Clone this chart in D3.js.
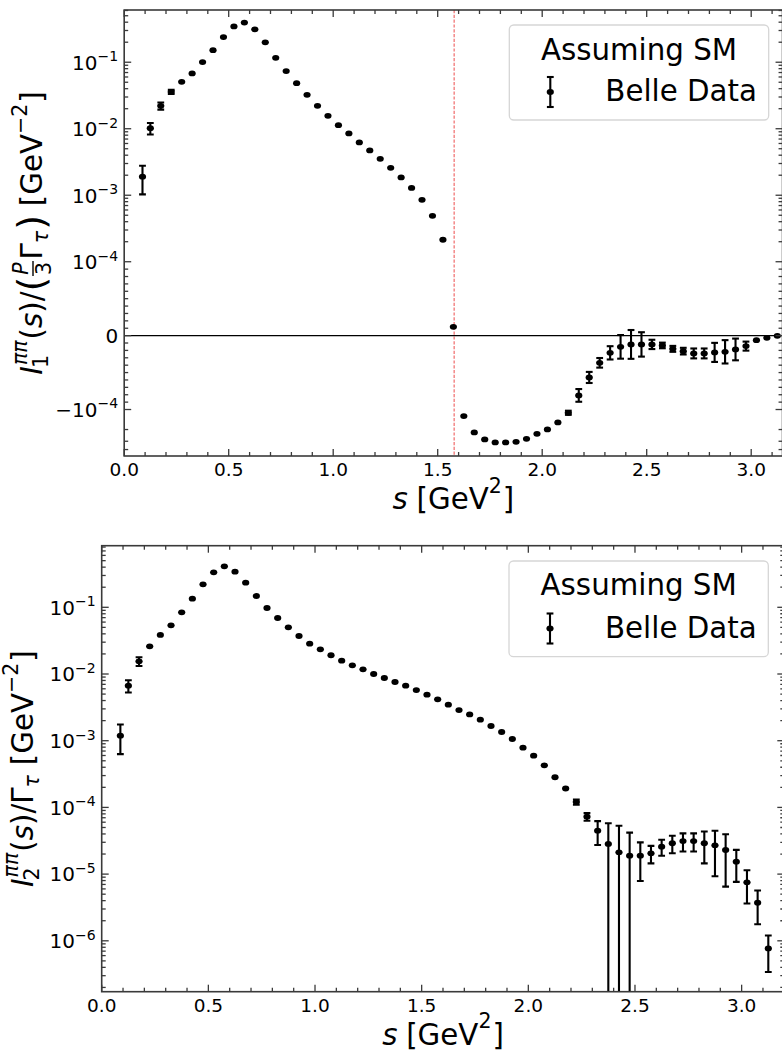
<!DOCTYPE html>
<html>
<head>
<meta charset="utf-8">
<script src="https://cdn.jsdelivr.net/npm/d3@7"></script>
<style>
  body { margin: 0; background: #fff; }
  svg { display: block; }
  text { font-family: "DejaVu Sans", sans-serif; fill: #000; }
</style>
</head>
<body>
<svg id="chart" width="782" height="1050"></svg>
<script>
// ---- data: Belle tau -> pi pi0 nu bins (s in GeV^2) ----
const sBins = [0.0875, 0.125, 0.175, 0.225, 0.275, 0.325, 0.375, 0.425, 0.475, 0.525,
  0.575, 0.625, 0.675, 0.725, 0.775, 0.825, 0.875, 0.925, 0.975, 1.025,
  1.075, 1.125, 1.175, 1.225, 1.275, 1.325, 1.375, 1.425, 1.475, 1.525,
  1.575, 1.625, 1.675, 1.725, 1.775, 1.825, 1.875, 1.925, 1.975, 2.025,
  2.075, 2.125, 2.175, 2.225, 2.275, 2.325, 2.375, 2.425, 2.475, 2.525,
  2.575, 2.625, 2.675, 2.725, 2.775, 2.825, 2.875, 2.925, 2.975, 3.025,
  3.075, 3.125];

// I1(s) / (P/3 Gamma_tau)  [GeV^-2]
const i1Values = [1.9e-3, 1.02e-2, 2.21e-2, 3.59e-2, 5.08e-2, 6.79e-2, 0.1005, 0.152, 0.239, 0.346,
  0.394, 0.312, 0.199, 0.1164, 0.0735, 0.0485, 0.0324, 0.0221, 0.01563, 0.01132,
  0.00851, 0.00622, 0.00472, 0.00353, 0.00258, 0.00185, 0.00129, 8.53e-4, 4.91e-4, 2.14e-4,
  1.19e-5, -1.257e-4, -2.21e-4, -2.82e-4, -3.13e-4, -3.13e-4, -3.06e-4, -2.76e-4, -2.32e-4, -1.995e-4,
  -1.564e-4, -1.122e-4, -8.09e-5, -5.66e-5, -3.68e-5, -2.33e-5, -1.52e-5, -1.19e-5, -1.19e-5, -1.19e-5,
  -1.33e-5, -1.79e-5, -2.10e-5, -2.41e-5, -2.41e-5, -2.27e-5, -2.19e-5, -1.87e-5, -1.42e-5, -6.1e-6,
  -3.0e-6, -3.0e-7];
const i1Errors = [8.7e-4, 2.0e-3, 2.7e-3, 2.5e-3, 1.5e-3, 1.5e-3, 2.0e-3, 3.0e-3, 4.0e-3, 5.0e-3,
  5.0e-3, 4.0e-3, 3.0e-3, 2.0e-3, 1.2e-3, 8.0e-4, 5.0e-4, 4.0e-4, 3.0e-4, 2.0e-4,
  1.5e-4, 1.2e-4, 1.0e-4, 8.0e-5, 6.0e-5, 5.0e-5, 4.0e-5, 3.0e-5, 2.0e-5, 1.0e-5,
  1.0e-6, 5.0e-6, 6.0e-6, 6.0e-6, 6.0e-6, 6.0e-6, 6.0e-6, 6.0e-6, 6.0e-6, 6.0e-6,
  6.0e-6, 8.0e-6, 8.6e-6, 7.5e-6, 6.5e-6, 9.0e-6, 1.6e-5, 1.95e-5, 1.65e-5, 6.3e-6,
  3.8e-6, 4.0e-6, 4.5e-6, 6.7e-6, 6.7e-6, 1.29e-5, 1.58e-5, 1.47e-5, 6.1e-6, 2.0e-6,
  1.0e-6, 5.0e-7];

// I2(s) / Gamma_tau  [GeV^-2]
const i2Values = [1.19e-3, 6.68e-3, 1.549e-2, 2.60e-2, 3.85e-2, 5.37e-2, 8.41e-2, 0.1346, 0.221, 0.335,
  0.412, 0.342, 0.234, 0.1476, 0.0976, 0.0691, 0.0501, 0.0371, 0.0285, 0.0234,
  0.0191, 0.01585, 0.01349, 0.01175, 0.0100, 0.00871, 0.00759, 0.00668, 0.00575, 0.00490,
  0.00417, 0.00347, 0.00288, 0.00248, 0.00207, 0.00166, 0.00135, 0.00106, 7.85e-4, 5.96e-4,
  4.28e-4, 2.83e-4, 1.92e-4, 1.205e-4, 7.26e-5, 4.48e-5, 2.83e-5, 2.12e-5, 1.89e-5, 1.89e-5,
  2.05e-5, 2.58e-5, 2.90e-5, 3.13e-5, 3.13e-5, 2.90e-5, 2.70e-5, 2.30e-5, 1.535e-5, 7.53e-6,
  3.72e-6, 7.7e-7];
const i2Errors = [5.6e-4, 1.4e-3, 2.3e-3, 1.5e-3, 1.0e-3, 1.0e-3, 1.5e-3, 2.0e-3, 3.0e-3, 4.0e-3,
  5.0e-3, 4.0e-3, 3.0e-3, 2.0e-3, 1.2e-3, 8.0e-4, 6.0e-4, 4.0e-4, 3.0e-4, 3.0e-4,
  2.0e-4, 2.0e-4, 1.5e-4, 1.3e-4, 1.2e-4, 1.0e-4, 1.0e-4, 9.0e-5, 8.0e-5, 7.0e-5,
  6.0e-5, 5.0e-5, 5.0e-5, 4.0e-5, 4.0e-5, 4.0e-5, 3.0e-5, 3.0e-5, 3.0e-5, 2.5e-5,
  2.5e-5, 1.5e-5, 1.0e-5, 1.1e-5, 9.5e-6, 1.75e-5, 2.95e-5, 3.2e-5, 2.3e-5, 1.1e-5,
  6.0e-6, 7.0e-6, 8.5e-6, 9.5e-6, 9.5e-6, 1.45e-5, 1.77e-5, 1.65e-5, 7.7e-6, 3.9e-6,
  1.95e-6, 4.3e-7];

// ---- axis settings ----
const xDomainTop = [0, 3.15];
const xDomainBottom = [0, 3.2];
const yDomainTop = [-5.0e-4, 0.61];
const yDomainBottom = [1.726e-7, 0.8385];
const xMajor = [0, 0.5, 1.0, 1.5, 2.0, 2.5, 3.0];
const xMajorLabels = ["0.0", "0.5", "1.0", "1.5", "2.0", "2.5", "3.0"];
const xMinor = [0.1, 0.2, 0.3, 0.4, 0.6, 0.7, 0.8, 0.9, 1.1, 1.2, 1.3, 1.4, 1.6, 1.7, 1.8, 1.9,
  2.1, 2.2, 2.3, 2.4, 2.6, 2.7, 2.8, 2.9, 3.1];
const yMajorTop = [1e-1, 1e-2, 1e-3, 1e-4, 0, -1e-4];
const yMajorTopLabels = [["10", "−1"], ["10", "−2"], ["10", "−3"], ["10", "−4"], ["0", ""], ["−10", "−4"]];
const yMajorBottom = [1e-1, 1e-2, 1e-3, 1e-4, 1e-5, 1e-6];
const yMajorBottomLabels = [["10", "−1"], ["10", "−2"], ["10", "−3"], ["10", "−4"], ["10", "−5"], ["10", "−6"]];
const halfTauMass2 = 1.5787;   // m_tau^2 / 2
const legendTitle = "Assuming SM";
const legendLabel = "Belle Data";

const svg = d3.select("#chart");
const INK = "#3a3a3a";
const LABEL_FS = 29.3;

// matplotlib-style symmetric log transform: base 10, linthresh 1e-4, linscale 1
const LINTHRESH = 1e-4, LINSCALE_ADJ = 1 / (1 - 1 / 10);
function symlogT(v) {
  const a = Math.abs(v);
  return a <= LINTHRESH ? (v / LINTHRESH) * LINSCALE_ADJ
                        : Math.sign(v) * (LINSCALE_ADJ + Math.log10(a / LINTHRESH));
}

// log minor ticks m*10^k within a domain
function logMinors(lo, hi, sign) {
  const out = [];
  for (let k = -8; k <= 0; k++) for (let m = 2; m <= 9; m++) {
    const v = m * Math.pow(10, k);
    if (v >= lo && v <= hi) out.push(sign * v);
  }
  return out;
}

// ---- small math-text layout (rotated or horizontal); offsets in em ----
function layoutMath(g, parts, base) {
  const inner = g.append("g");
  let cx = 0;
  const run = (t, fs, it, x, y) => inner.append("text")
    .attr("x", x).attr("y", y).attr("font-size", fs)
    .attr("font-style", it ? "italic" : "normal").text(t);
  parts.forEach(p => {
    cx += (p.pre || 0) * base;
    if (p.frac) {
      const fs = base * 0.7;
      const a = run(p.frac[0].t, fs, p.frac[0].it, 0, p.ny * base);
      const b = run(p.frac[1].t, fs, p.frac[1].it, 0, p.dy * base);
      const wa = a.node().getComputedTextLength(), wb = b.node().getComputedTextLength();
      const w = Math.max(wa, wb) + 3;
      a.attr("x", cx + (w - wa) / 2);
      b.attr("x", cx + (w - wb) / 2);
      inner.append("line").attr("x1", cx + 0.5).attr("x2", cx + w - 0.5)
        .attr("y1", p.axis * base).attr("y2", p.axis * base).attr("stroke", "#000").attr("stroke-width", 1.4);
      cx += w + 1;
    } else if (p.sub || p.sup) {
      const fs = base * 0.7;
      let w = 0;
      if (p.sub) { const e = run(p.sub.t, fs, p.sub.it, cx + (p.subX || 0), base * 0.22); w = Math.max(w, e.node().getComputedTextLength() + (p.subX || 0)); }
      if (p.sup) { const e = run(p.sup.t, fs, p.sup.it, cx + (p.supX || 0), -base * (p.raise || 0.48)); w = Math.max(w, e.node().getComputedTextLength() + (p.supX || 0)); }
      cx += w + 1;
    } else {
      const e = run(p.t, (p.scale || 1) * base, p.it, cx, (p.dy || 0) * base);
      cx += e.node().getComputedTextLength();
    }
  });
  inner.attr("transform", `translate(${-cx / 2},0)`);
}

// ---- generic panel drawing ----
function drawPanel(P, x, y, yMajor, yMajorLabels, yMinor, values, errors) {
  const g = svg.append("g");
  const clipId = "clip" + Math.round(P.top);
  svg.append("clipPath").attr("id", clipId).append("rect")
    .attr("x", P.left).attr("y", P.top).attr("width", P.right - P.left).attr("height", P.bottom - P.top);
  const plot = g.append("g").attr("clip-path", `url(#${clipId})`);

  // error bars + points
  const pts = sBins.map((s, i) => ({ s, v: values[i], e: errors[i] }));
  const clampY = v => Math.max(P.top - 5, Math.min(P.bottom + 5, v));
  const yOf = v => (P.log && v <= 0) ? P.bottom + 5 : clampY(y(v));
  const eb = plot.append("g").attr("stroke", "#000").attr("stroke-width", 2.1);
  pts.forEach(d => {
    const cxp = x(d.s), y1 = yOf(d.v + d.e), y2 = yOf(d.v - d.e);
    eb.append("line").attr("x1", cxp).attr("x2", cxp).attr("y1", y1).attr("y2", y2);
    if (Math.abs(y2 - y1) > 4) {
      eb.append("line").attr("x1", cxp - 3.4).attr("x2", cxp + 3.4).attr("y1", y1).attr("y2", y1);
      if (!(P.log && d.v - d.e <= 0))
        eb.append("line").attr("x1", cxp - 3.4).attr("x2", cxp + 3.4).attr("y1", y2).attr("y2", y2);
    }
  });
  plot.append("g").selectAll("ellipse").data(pts).join("ellipse")
    .attr("cx", d => x(d.s)).attr("cy", d => y(d.v)).attr("rx", 3.6).attr("ry", 2.9).attr("fill", "#000");

  // frame
  g.append("rect").attr("x", P.left).attr("y", P.top)
    .attr("width", P.right - P.left).attr("height", P.bottom - P.top)
    .attr("fill", "none").attr("stroke", INK).attr("stroke-width", 1.6);

  // ticks (inward, all four sides)
  const tk = g.append("g").attr("stroke", INK).attr("stroke-width", 1.3);
  const xt = (v, len) => {
    const px = x(v);
    tk.append("line").attr("x1", px).attr("x2", px).attr("y1", P.bottom).attr("y2", P.bottom - len);
    tk.append("line").attr("x1", px).attr("x2", px).attr("y1", P.top).attr("y2", P.top + len);
  };
  const yt = (v, len) => {
    const py = y(v);
    tk.append("line").attr("x1", P.left).attr("x2", P.left + len).attr("y1", py).attr("y2", py);
    tk.append("line").attr("x1", P.right).attr("x2", P.right - len).attr("y1", py).attr("y2", py);
  };
  xMajor.forEach(v => xt(v, 7));
  xMinor.forEach(v => { if (v <= x.domain()[1]) xt(v, 4); });
  yMajor.forEach(v => yt(v, 7));
  yMinor.forEach(v => yt(v, 4));

  // tick labels
  xMajor.forEach((v, i) => g.append("text").attr("x", x(v)).attr("y", P.bottom + 19.8)
    .attr("text-anchor", "middle").attr("font-size", 18.5).text(xMajorLabels[i]));
  yMajor.forEach((v, i) => {
    const t = g.append("text").attr("x", P.left - 6).attr("y", y(v) + 7.3)
      .attr("text-anchor", "end").attr("font-size", 20);
    t.append("tspan").text(yMajorLabels[i][0]);
    if (yMajorLabels[i][1]) t.append("tspan").attr("dy", -8.5).attr("font-size", 14).text(yMajorLabels[i][1]);
  });
  return { g, plot };
}

function drawLegend(box, titleY, labelY, markerY) {
  const g = svg.append("g");
  g.append("rect").attr("x", box.x).attr("y", box.y).attr("width", box.w).attr("height", box.h)
    .attr("rx", 4.5).attr("fill", "#fff").attr("fill-opacity", 0.8)
    .attr("stroke", "#d6d6d6").attr("stroke-width", 1.3);
  g.append("text").attr("x", box.x + box.w / 2).attr("y", titleY).attr("text-anchor", "middle")
    .attr("font-size", 29.3).text(legendTitle);
  g.append("text").attr("x", box.x + 96).attr("y", labelY).attr("font-size", 29.3).text(legendLabel);
  const mx = box.x + 41;
  const m = g.append("g").attr("stroke", "#000").attr("stroke-width", 2.1);
  m.append("line").attr("x1", mx).attr("x2", mx).attr("y1", markerY - 15).attr("y2", markerY + 15);
  m.append("line").attr("x1", mx - 3.4).attr("x2", mx + 3.4).attr("y1", markerY - 15).attr("y2", markerY - 15);
  m.append("line").attr("x1", mx - 3.4).attr("x2", mx + 3.4).attr("y1", markerY + 15).attr("y2", markerY + 15);
  g.append("ellipse").attr("cx", mx).attr("cy", markerY).attr("rx", 3.6).attr("ry", 2.9).attr("fill", "#000");
}

// ================= top panel: I1 on symlog axis =================
const P1 = { left: 124.2, right: 782.55, top: 10, bottom: 456, log: false };
const xTop = d3.scaleLinear().domain(xDomainTop).range([P1.left, P1.right]);
const yTopLin = d3.scaleLinear().domain(yDomainTop.map(symlogT)).range([P1.bottom, P1.top]);
const yTop = v => yTopLin(symlogT(v));
const linMinors = [];
for (let k = 1; k <= 9; k++) { linMinors.push(k * 1e-5); linMinors.push(-k * 1e-5); }
const yMinorTop = logMinors(1e-4, yDomainTop[1], 1)
  .concat(logMinors(1e-4, -yDomainTop[0] - 1e-9, -1)).concat(linMinors);
const topPanel = drawPanel(P1, xTop, yTop, yMajorTop, yMajorTopLabels, yMinorTop, i1Values, i1Errors);

// zero line and s = m_tau^2/2 marker
topPanel.plot.insert("line", ":first-child").attr("x1", P1.left).attr("x2", P1.right)
  .attr("y1", yTop(0)).attr("y2", yTop(0)).attr("stroke", "#000").attr("stroke-width", 1.1);
topPanel.plot.insert("line", ":first-child").attr("x1", xTop(halfTauMass2)).attr("x2", xTop(halfTauMass2))
  .attr("y1", P1.top).attr("y2", P1.bottom).attr("stroke", "#ef5a5a").attr("stroke-width", 1.2)
  .attr("stroke-dasharray", "3.2,1.6").attr("opacity", 0.9);

drawLegend({ x: 509.3, y: 25, w: 259.4, h: 95 }, 60, 101, 92);

// axis titles
layoutMath(svg.append("g").attr("transform", "translate(41.5,233) rotate(-90)"), [
  { t: "I", it: true },
  { sub: { t: "1" }, sup: { t: "ππ", it: true }, subX: -2, supX: 1, raise: 0.5 },
  { t: "(" }, { t: "s", it: true }, { t: ")/" },
  { t: "(", scale: 1.3, dy: 0.08 },
  { frac: [{ t: "P", it: true }, { t: "3" }], ny: -0.46, dy: 0.33, axis: -0.29 },
  { t: "Γ" }, { sub: { t: "τ", it: true } },
  { t: ")", scale: 1.3, dy: 0.08 },
  { t: "[GeV", pre: 0.3 }, { sup: { t: "−2" }, raise: 0.5 }, { t: "]" }
], LABEL_FS);
layoutMath(svg.append("g").attr("transform", "translate(453.4,509.3)"), [
  { t: "s", it: true }, { t: "[GeV", pre: 0.3 }, { sup: { t: "2" }, raise: 0.55 }, { t: "]" }
], LABEL_FS);

// ================= bottom panel: I2 on log axis =================
const P2 = { left: 101.7, right: 784.3, top: 545.7, bottom: 991.7, log: true };
const xBot = d3.scaleLinear().domain(xDomainBottom).range([P2.left, P2.right]);
const yBot = d3.scaleLog().domain(yDomainBottom).range([P2.bottom, P2.top]);
const yMinorBot = logMinors(yDomainBottom[0], yDomainBottom[1], 1);
drawPanel(P2, xBot, yBot, yMajorBottom, yMajorBottomLabels, yMinorBot, i2Values, i2Errors);

drawLegend({ x: 509, y: 561, w: 259.3, h: 95.7 }, 595, 638.3, 628.5);

layoutMath(svg.append("g").attr("transform", "translate(33,768.7) rotate(-90)"), [
  { t: "I", it: true },
  { sub: { t: "2" }, sup: { t: "ππ", it: true }, subX: -2, supX: 1, raise: 0.5 },
  { t: "(" }, { t: "s", it: true }, { t: ")/Γ" }, { sub: { t: "τ", it: true } },
  { t: "[GeV", pre: 0.3 }, { sup: { t: "−2" }, raise: 0.5 }, { t: "]" }
], LABEL_FS);
layoutMath(svg.append("g").attr("transform", "translate(443,1044.5)"), [
  { t: "s", it: true }, { t: "[GeV", pre: 0.3 }, { sup: { t: "2" }, raise: 0.55 }, { t: "]" }
], LABEL_FS);
</script>
</body>
</html>
